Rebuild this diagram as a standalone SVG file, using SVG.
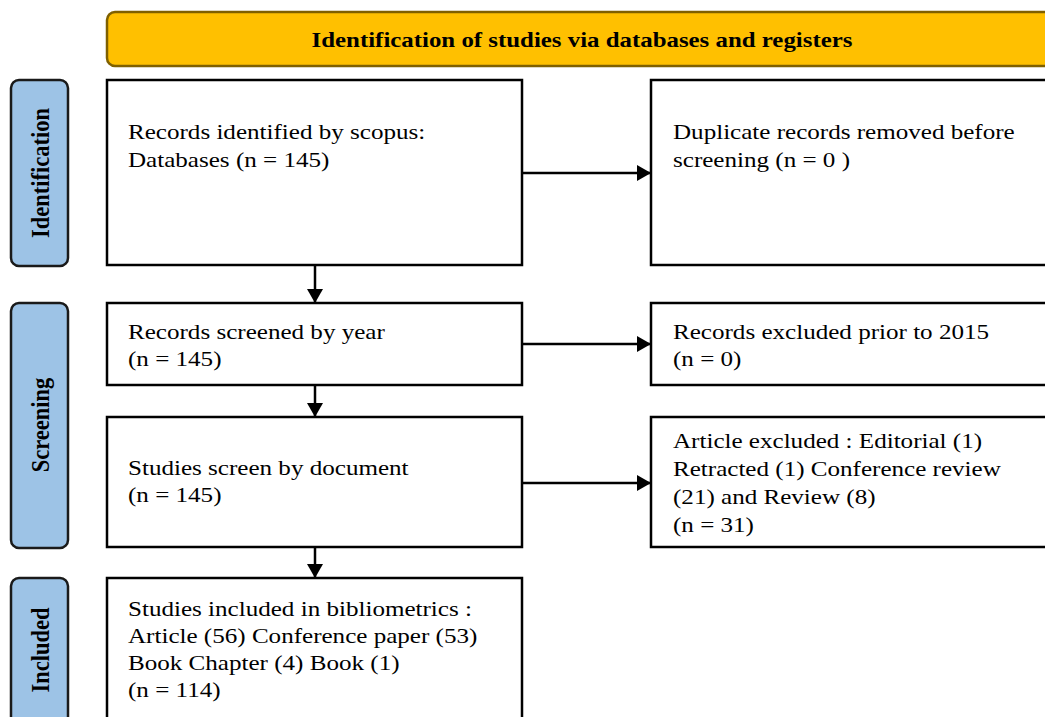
<svg xmlns="http://www.w3.org/2000/svg" width="1045" height="717" viewBox="0 0 1045 717">
<style>
.bg{fill:#ffffff}
.box{fill:#ffffff;stroke:#000000;stroke-width:2.5}
.side{fill:#9DC3E6;stroke:#1a1a1a;stroke-width:2.5}
.banner{fill:#FFC000;stroke:#7F6000;stroke-width:2.5}
.t{font-family:"Liberation Serif","Times New Roman",serif;font-size:22px;fill:#000000}
.tb{font-family:"Liberation Serif","Times New Roman",serif;font-size:22px;font-weight:bold;fill:#000000}
.sl{font-family:"Liberation Serif","Times New Roman",serif;font-size:22.5px;font-weight:bold;fill:#000000;text-anchor:middle}
.conn{stroke:#000000;stroke-width:2.5;fill:none}
</style>
<defs>
<marker id="ah" markerUnits="userSpaceOnUse" markerWidth="16" markerHeight="16" viewBox="0 0 14 16" refX="14" refY="8" orient="auto">
<path d="M0,0 L14,8 L0,16 Z" fill="#000000"/>
</marker>
</defs>
<rect class="bg" x="0" y="0" width="1045" height="717"/>

<g id="banner">
<rect class="banner" x="107" y="12" width="960" height="54" rx="8"/>
<text class="tb" text-anchor="middle" transform="translate(582,47) scale(1.13,1)">Identification of studies via databases and registers</text>
</g>

<g id="side-identification">
<rect class="side" x="11" y="80" width="57" height="186" rx="8"/>
<text class="sl" transform="translate(49,173) rotate(-90) scale(1,1.15)">Identification</text>
</g>
<g id="side-screening">
<rect class="side" x="11" y="303" width="57" height="245" rx="8"/>
<text class="sl" transform="translate(49,425) rotate(-90) scale(1,1.15)">Screening</text>
</g>
<g id="side-included">
<rect class="side" x="11" y="578" width="57" height="160" rx="8"/>
<text class="sl" transform="translate(49,650) rotate(-90) scale(1,1.15)">Included</text>
</g>

<g id="connectors">
<line class="conn" x1="522" y1="173" x2="651" y2="173" marker-end="url(#ah)"/>
<line class="conn" x1="315" y1="265" x2="315" y2="303" marker-end="url(#ah)"/>
<line class="conn" x1="522" y1="344" x2="651" y2="344" marker-end="url(#ah)"/>
<line class="conn" x1="315" y1="385" x2="315" y2="417" marker-end="url(#ah)"/>
<line class="conn" x1="522" y1="483" x2="651" y2="483" marker-end="url(#ah)"/>
<line class="conn" x1="315" y1="547" x2="315" y2="578" marker-end="url(#ah)"/>
</g>

<g id="n-identified">
<rect class="box" x="107" y="80" width="415" height="185"/>
<text class="t" transform="translate(128,139) scale(1.14,1)">Records identified by scopus:</text>
<text class="t" transform="translate(128,167) scale(1.14,1)">Databases (n = 145)</text>
</g>
<g id="n-duplicates">
<rect class="box" x="651" y="80" width="420" height="185"/>
<text class="t" transform="translate(673,139) scale(1.14,1)">Duplicate records removed before</text>
<text class="t" transform="translate(673,167) scale(1.14,1)">screening (n = 0 )</text>
</g>
<g id="n-screened-year">
<rect class="box" x="107" y="303" width="415" height="82"/>
<text class="t" transform="translate(128,339) scale(1.14,1)">Records screened by year</text>
<text class="t" transform="translate(128,366) scale(1.14,1)">(n = 145)</text>
</g>
<g id="n-excluded-year">
<rect class="box" x="651" y="303" width="420" height="82"/>
<text class="t" transform="translate(673,339) scale(1.14,1)">Records excluded prior to 2015</text>
<text class="t" transform="translate(673,366) scale(1.14,1)">(n = 0)</text>
</g>
<g id="n-screen-document">
<rect class="box" x="107" y="417" width="415" height="130"/>
<text class="t" transform="translate(128,475) scale(1.14,1)">Studies screen by document</text>
<text class="t" transform="translate(128,502) scale(1.14,1)">(n = 145)</text>
</g>
<g id="n-excluded-document">
<rect class="box" x="651" y="417" width="420" height="130"/>
<text class="t" transform="translate(673,448) scale(1.14,1)">Article excluded : Editorial (1)</text>
<text class="t" transform="translate(673,476) scale(1.14,1)">Retracted (1) Conference review</text>
<text class="t" transform="translate(673,504) scale(1.14,1)">(21) and Review (8)</text>
<text class="t" transform="translate(673,532) scale(1.14,1)">(n = 31)</text>
</g>
<g id="n-included">
<rect class="box" x="107" y="578" width="415" height="160"/>
<text class="t" transform="translate(128,616) scale(1.14,1)">Studies included in bibliometrics :</text>
<text class="t" transform="translate(128,643) scale(1.14,1)">Article (56) Conference paper (53)</text>
<text class="t" transform="translate(128,670) scale(1.14,1)">Book Chapter (4) Book (1)</text>
<text class="t" transform="translate(128,697) scale(1.14,1)">(n = 114)</text>
</g>
</svg>
